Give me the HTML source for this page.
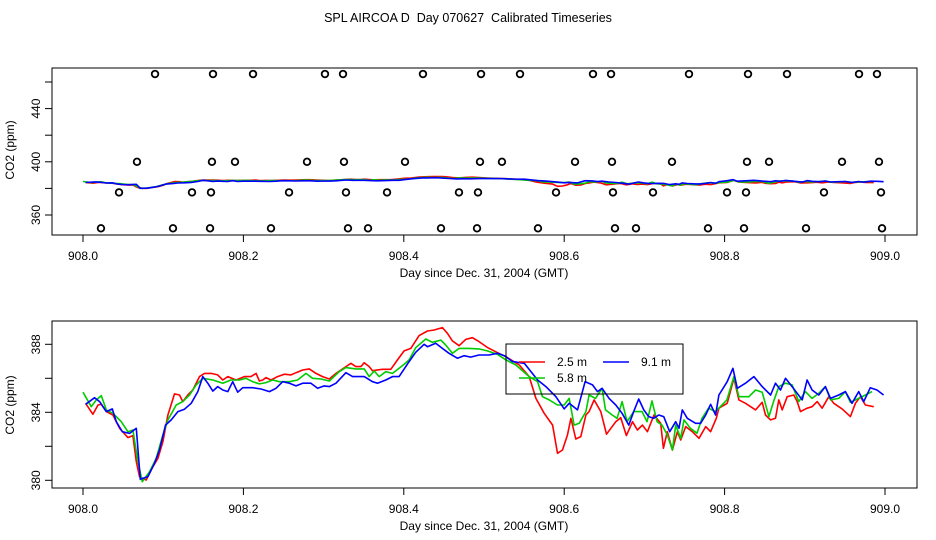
<!DOCTYPE html>
<html><head><meta charset="utf-8"><style>
html,body{margin:0;padding:0;background:#fff}
svg{display:block;font-family:"Liberation Sans",sans-serif}
</style></head><body>
<svg id="chart" width="936" height="540" viewBox="0 0 936 540" xmlns="http://www.w3.org/2000/svg">
<rect width="936" height="540" fill="#fff"/>
<text x="468" y="22" font-size="12.5" text-anchor="middle">SPL AIRCOA D&#160; Day 070627&#160; Calibrated Timeseries</text>
<g id="top"></g>
<g id="bot"></g>
</svg>
<script>
const xTicks=[908.0,908.2,908.4,908.6,908.8,909.0];
const topYTicks=[360,380,400,420,440,460];
const topYLabels=[360,400,440];
const botYTicks=[380,382,384,386,388];
const botYLabels=[380,384,388];

const redT=[908.0033,908.0124,908.0187,908.0228,908.0290,908.0373,908.0456,908.0560,908.0622,908.0664,908.0705,908.0788,908.0871,908.0934,908.0996,908.1058,908.1141,908.1203,908.1245,908.1307,908.1369,908.1452,908.1515,908.1598,908.1680,908.1743,908.1805,908.1909,908.2012,908.2095,908.2158,908.2199,908.2241,908.2282,908.2344,908.2427,908.2510,908.2593,908.2656,908.2739,908.2822,908.2905,908.2988,908.3071,908.3154,908.3237,908.3340,908.3402,908.3465,908.3506,908.3568,908.3610,908.3734,908.3838,908.3921,908.4004,908.4087,908.4191,908.4295,908.4378,908.4481,908.4544,908.4606,908.4689,908.4772,908.4855,908.4938,908.5041,908.5166,908.5274,908.5440,908.5564,908.5647,908.5751,908.5855,908.5917,908.5979,908.6041,908.6083,908.6145,908.6207,908.6270,908.6311,908.6373,908.6456,908.6527,908.6643,908.6705,908.6776,908.6851,908.6913,908.6975,908.7037,908.7120,908.7203,908.7237,908.7286,908.7349,908.7411,908.7452,908.7515,908.7598,908.7681,908.7764,908.7826,908.7896,908.7929,908.8033,908.8116,908.8178,908.8261,908.8386,908.8469,908.8510,908.8573,908.8635,908.8676,908.8718,908.8780,908.8863,908.8905,908.8946,908.9029,908.9091,908.9154,908.9216,908.9299,908.9361,908.9465,908.9568,908.9631,908.9693,908.9755,908.9859];
const redV=[384.53,383.88,384.43,384.47,384.04,383.84,383.06,382.51,382.63,381.10,380.22,380.02,380.80,381.29,382.27,383.84,385.08,385.02,384.63,385.02,385.31,386.10,386.29,386.29,386.20,385.90,386.10,385.90,386.10,386.10,386.29,385.84,385.90,386.04,385.90,386.10,386.24,386.20,386.33,386.49,386.55,386.29,386.10,385.96,386.29,386.55,386.88,386.69,386.69,386.92,386.69,386.45,386.53,386.53,387.08,387.61,387.76,388.51,388.78,388.84,388.98,388.65,388.20,387.92,388.29,388.39,388.16,387.82,387.51,387.27,386.78,386.10,384.82,383.94,383.25,381.59,381.78,382.67,383.65,382.43,382.57,383.84,384.04,384.73,384.04,382.71,383.45,383.69,382.63,383.45,382.96,383.25,382.86,383.84,383.35,381.88,382.86,381.78,382.86,382.37,383.16,382.86,382.47,383.16,382.86,383.65,384.24,384.53,386.00,384.73,384.53,384.14,384.59,383.84,383.55,383.65,384.73,384.14,384.92,385.02,384.63,384.04,384.24,384.33,384.63,384.24,384.92,384.53,384.20,383.75,384.53,384.92,384.43,384.33];

const greenT=[908.0000,908.0104,908.0166,908.0228,908.0290,908.0373,908.0477,908.0560,908.0622,908.0685,908.0739,908.0830,908.0913,908.0996,908.1058,908.1162,908.1245,908.1328,908.1411,908.1494,908.1618,908.1743,908.1846,908.1950,908.2033,908.2116,908.2199,908.2282,908.2365,908.2448,908.2573,908.2676,908.2780,908.2863,908.2967,908.3071,908.3195,908.3278,908.3402,908.3506,908.3568,908.3631,908.3693,908.3776,908.3859,908.3942,908.4004,908.4066,908.4149,908.4274,908.4357,908.4461,908.4523,908.4606,908.4689,908.4813,908.4938,908.5041,908.5166,908.5274,908.5398,908.5564,908.5668,908.5730,908.5813,908.5917,908.6000,908.6062,908.6124,908.6187,908.6270,908.6311,908.6390,908.6473,908.6515,908.6598,908.6660,908.6722,908.6784,908.6867,908.6971,908.7033,908.7095,908.7158,908.7220,908.7286,908.7349,908.7390,908.7452,908.7494,908.7573,908.7656,908.7718,908.7801,908.7884,908.7946,908.8029,908.8116,908.8178,908.8303,908.8386,908.8469,908.8552,908.8614,908.8676,908.8759,908.8842,908.8925,908.9008,908.9091,908.9174,908.9257,908.9320,908.9423,908.9506,908.9568,908.9672,908.9755,908.9838];
const greenV=[385.18,384.33,384.73,384.98,384.14,383.94,383.45,382.86,382.96,381.10,379.92,380.51,381.29,382.67,383.55,384.43,384.63,385.02,385.61,386.00,385.90,385.71,385.90,385.90,386.00,385.80,385.67,385.75,385.90,385.80,385.80,385.90,386.29,386.00,385.96,385.84,386.39,386.63,386.55,386.55,386.10,386.43,386.10,386.39,386.29,386.59,386.82,387.08,387.80,388.31,388.12,388.25,387.96,387.47,387.76,387.76,387.73,387.61,387.41,387.08,386.78,386.10,385.80,384.92,384.73,384.43,384.43,384.82,383.25,383.35,384.04,385.02,384.82,385.41,384.14,383.84,383.65,384.63,383.45,384.04,384.04,383.45,384.67,383.45,383.25,382.67,381.78,383.25,382.47,383.55,383.06,382.77,383.65,384.24,384.04,384.33,384.73,386.10,384.92,384.92,385.31,385.18,383.75,384.67,385.51,385.71,385.61,384.63,385.22,384.82,385.12,385.51,384.73,384.82,385.22,384.59,384.82,385.02,385.22];

const blueT=[908.0033,908.0145,908.0207,908.0290,908.0365,908.0415,908.0490,908.0581,908.0664,908.0714,908.0809,908.0892,908.0954,908.1029,908.1100,908.1183,908.1266,908.1349,908.1432,908.1494,908.1556,908.1618,908.1680,908.1743,908.1805,908.1867,908.1929,908.1992,908.2116,908.2220,908.2324,908.2407,908.2490,908.2573,908.2656,908.2739,908.2842,908.2925,908.3008,908.3071,908.3154,908.3278,908.3361,908.3506,908.3610,908.3672,908.3776,908.3859,908.3942,908.4066,908.4149,908.4253,908.4295,908.4398,908.4481,908.4564,908.4668,908.4751,908.4834,908.4938,908.5062,908.5170,908.5253,908.5357,908.5502,908.5668,908.5772,908.5896,908.6000,908.6062,908.6166,908.6261,908.6353,908.6415,908.6473,908.6560,908.6643,908.6722,908.6805,908.6867,908.6929,908.6992,908.7054,908.7116,908.7178,908.7241,908.7315,908.7390,908.7431,908.7473,908.7535,908.7639,908.7701,908.7764,908.7826,908.7888,908.7929,908.8033,908.8104,908.8158,908.8261,908.8365,908.8469,908.8573,908.8635,908.8697,908.8759,908.8842,908.8905,908.8967,908.9029,908.9091,908.9174,908.9257,908.9320,908.9423,908.9506,908.9589,908.9672,908.9734,908.9817,908.9900,908.9983];
const blueV=[384.47,384.86,384.63,384.04,384.20,383.45,382.86,382.76,383.06,380.06,380.22,381.00,381.78,383.25,383.55,384.04,384.18,384.53,385.22,386.10,385.71,385.25,385.51,385.31,385.22,385.80,385.18,385.45,385.45,385.37,385.22,385.41,385.80,385.71,385.55,385.71,385.71,385.41,385.55,385.51,385.71,386.33,386.10,386.10,385.80,385.71,385.90,386.10,386.10,386.98,387.53,388.00,387.86,388.06,387.76,387.47,387.18,387.33,387.25,387.37,387.37,387.47,387.33,386.98,386.88,385.90,385.51,384.92,384.20,384.53,384.14,385.80,385.61,385.22,385.41,384.82,384.43,383.94,383.25,384.04,384.78,384.14,383.75,383.65,383.84,383.75,382.86,383.45,383.06,384.14,383.65,383.35,383.35,383.84,384.47,383.84,385.02,385.80,386.59,385.41,385.71,386.10,385.51,385.02,385.71,385.31,386.00,385.51,385.12,384.73,385.90,385.31,385.02,385.51,384.82,385.02,385.22,384.53,385.22,384.63,385.45,385.31,385.02];

const circT=[908.0898,908.1621,908.2120,908.3017,908.3242,908.4239,908.4963,908.5449,908.6359,908.6584,908.7556,908.8292,908.8778,908.9676,908.9900,
908.0673,908.1608,908.1895,908.2793,908.3254,908.4015,908.4950,908.5224,908.6135,908.6596,908.7344,908.8279,908.8554,908.9464,908.9925,
908.0449,908.1359,908.1596,908.2569,908.3279,908.3791,908.4688,908.4925,908.5898,908.6608,908.7107,908.8030,908.8267,908.9239,908.9950,
908.0224,908.1122,908.1584,908.2344,908.3304,908.3554,908.4464,908.4913,908.5673,908.6633,908.6895,908.7793,908.8242,908.9015,908.9963];
const circV=[466,466,466,466,466,466,466,466,466,466,466,466,466,466,466,
400,400,400,400,400,400,400,400,400,400,400,400,400,400,400,
377,377,377,377,377,377,377,377,377,377,377,377,377,377,377,
350,350,350,350,350,350,350,350,350,350,350,350,350,350,350];

const NS='http://www.w3.org/2000/svg';
function mk(tag,attrs,parent,txt){const e=document.createElementNS(NS,tag);for(const k in attrs)e.setAttribute(k,attrs[k]);if(txt!==undefined)e.textContent=txt;parent.appendChild(e);return e;}
const X0=83,XPD=802;
function xs(t){return X0+(t-908)*XPD;}

function panel(g,box,yScale,yTicks,yLabels,yCenter){
  const frame=mk('rect',{x:box.x,y:box.y,width:box.w,height:box.h,fill:'none',stroke:'#000','stroke-width':1},g);
  
  
  const by=box.y+box.h;
  xTicks.forEach(t=>{
    const x=xs(t);
    const tk=mk('line',{x1:x,x2:x,y1:by,y2:by+7,stroke:'#000'},g);
    
    
    const lb=mk('text',{x:x,y:by+25,'font-size':12,'text-anchor':'middle'},g,t.toFixed(1));
    
    
  });
  yTicks.forEach(v=>{
    const y=yScale(v);
    const tk=mk('line',{x1:box.x-7,x2:box.x,y1:y,y2:y,stroke:'#000'},g);
    
    
  });
  yLabels.forEach(v=>{
    const y=yScale(v);
    const lb=mk('text',{x:0,y:0,'font-size':12,'text-anchor':'middle',transform:`translate(${box.x-12},${y}) rotate(-90)`},g,String(v));
    
    
  });
  const xl=mk('text',{x:484,y:by+42,'font-size':12,'text-anchor':'middle'},g,'Day since Dec. 31, 2004 (GMT)');
  
  
  const yl=mk('text',{x:0,y:0,'font-size':12,'text-anchor':'middle',transform:`translate(14,${yCenter}) rotate(-90)`},g,'CO2 (ppm)');
  
  
}
function series(g,T,V,yScale,color,name){
  const d=T.map((t,i)=>(i?'L':'M')+xs(t).toFixed(1)+','+yScale(V[i]).toFixed(1)).join('');
  const p=mk('path',{d:d,fill:'none',stroke:color,'stroke-width':1.6,'stroke-linejoin':'round'},g);
  
  
}

const topG=document.getElementById('top');
const topBox={x:52,y:68,w:865,h:167};
const topY=v=>215-(v-360)*1.33;
panel(topG,topBox,topY,topYTicks,topYLabels,150);
circT.forEach((t,i)=>{
  const c=mk('circle',{cx:xs(t),cy:topY(circV[i]),r:3.3,fill:'none',stroke:'#000','stroke-width':1.8},topG);
  
  
});
series(topG,redT,redV,topY,'#f00','top-series-2-5m');
series(topG,greenT,greenV,topY,'#0c0','top-series-5-8m');
series(topG,blueT,blueV,topY,'#00f','top-series-9-1m');

const botG=document.getElementById('bot');
const botBox={x:52,y:321,w:865,h:167};
const botY=v=>480.3-(v-380)*17;
panel(botG,botBox,botY,botYTicks,botYLabels,405);
series(botG,redT,redV,botY,'#f00','series-2-5m');
series(botG,greenT,greenV,botY,'#0c0','series-5-8m');
series(botG,blueT,blueV,botY,'#00f','series-9-1m');

const lg=mk('g',{},botG);


mk('rect',{x:506,y:344,width:177,height:50,fill:'none',stroke:'#000'},lg);
const entries=[['2.5 m','#f00',519,362],['9.1 m','#00f',603,362],['5.8 m','#0c0',519,378]];
entries.forEach(e=>{
  const eg=mk('g',{},lg);
  
  
  mk('line',{x1:e[2],x2:e[2]+26,y1:e[3],y2:e[3],stroke:e[1],'stroke-width':1.4},eg);
  mk('text',{x:e[2]+38,y:e[3]+4,'font-size':12},eg,e[0]);
});
</script>
</body></html>
